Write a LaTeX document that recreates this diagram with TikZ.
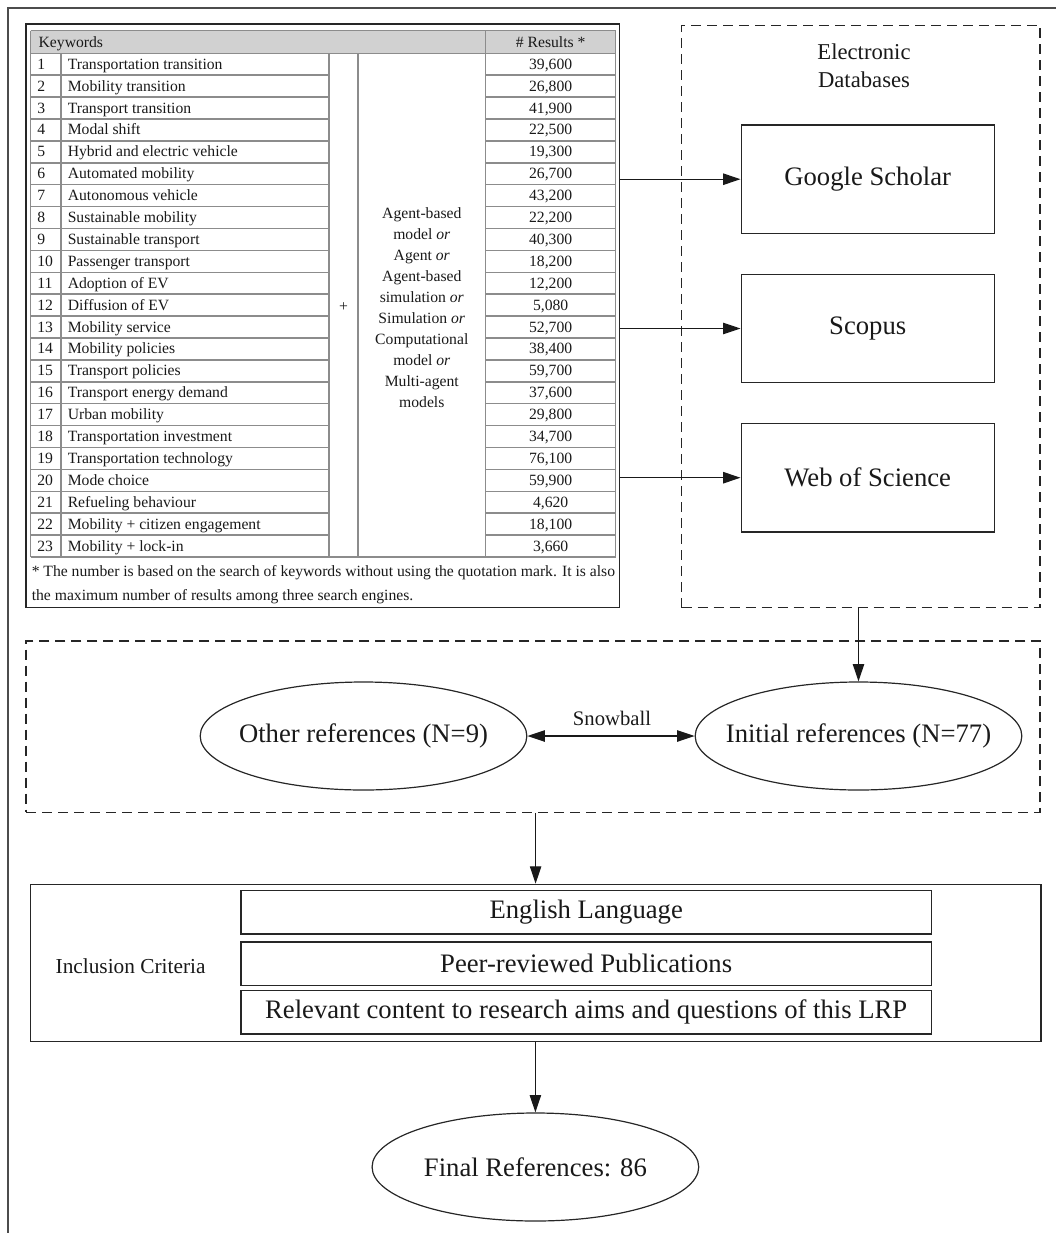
\documentclass[tikz,border=0pt]{standalone}
\usepackage{fontspec}
\setmainfont{Liberation Serif}
\usetikzlibrary{arrows.meta,shapes.geometric}
\begin{document}
\begin{tikzpicture}[x=0.75pt,y=-0.75pt,
  myTri/.tip={Triangle[length=13pt,width=8.5pt]},
  tabtxt/.style={font=\fontsize{11.75}{14}\selectfont, inner sep=0pt, text=black!90},
  gridline/.style={draw=black!45, line width=1.1pt},
  rbox/.style={draw=black!85, line width=1pt, rectangle, inner sep=0pt, text=black!90},
  dbox/.style={draw=black!85, line width=1pt, dash pattern=on 7.5pt off 4.5pt, rectangle, inner sep=0pt},
  ell/.style={draw=black!85, line width=0.9pt, ellipse, inner sep=0pt, minimum width=245pt, minimum height=81pt, font=\fontsize{20}{24}\selectfont, text=black!90},
  arr/.style={draw=black!90, line width=0.9pt, -myTri},
  dblarr/.style={draw=black!90, line width=0.9pt, myTri-myTri},
  bigtxt/.style={font=\fontsize{20}{24}\selectfont},
]
\useasboundingbox (0,0) rectangle (1056,1233);

% outer frame (top and left edges)
\draw[line width=1.5pt, black!70] (8,1233) -- (8,8) -- (1056,8);

% ---------- keyword table ----------
\node[rbox, minimum width=445pt, minimum height=437.8pt] (tbl) at (322.65,315.85) {};
\fill[black!18] (30.7,30.7) rectangle (615.7,53.3);
\foreach \n in {1,...,22}{
  \draw[gridline] (30.7,{53.3+\n*21.9}) -- (329.2,{53.3+\n*21.9});
  \draw[gridline] (485.7,{53.3+\n*21.9}) -- (615.7,{53.3+\n*21.9});
}
\draw[gridline] (30.7,30.7) -- (615.7,30.7);
\draw[gridline] (30.7,53.3) -- (615.7,53.3);
\draw[gridline] (30.7,557) -- (615.7,557);
\draw[gridline] (30.7,30.7) -- (30.7,557);
\draw[gridline] (615.7,30.7) -- (615.7,557);
\draw[gridline] (485.7,30.7) -- (485.7,557);
\draw[gridline] (61,53.3) -- (61,557);
\draw[gridline] (329.2,53.3) -- (329.2,557);
\draw[gridline] (357.9,53.3) -- (357.9,557);

\node[tabtxt, anchor=base west] (hkw) at (38.4,47) {Keywords};
\node[tabtxt, anchor=base] (hres) at (550.7,47) {\# Results *};

\foreach \k/\kw/\num [count=\i] in {
  {1/Transportation transition/39,600},
  {2/Mobility transition/26,800},
  {3/Transport transition/41,900},
  {4/Modal shift/22,500},
  {5/Hybrid and electric vehicle/19,300},
  {6/Automated mobility/26,700},
  {7/Autonomous vehicle/43,200},
  {8/Sustainable mobility/22,200},
  {9/Sustainable transport/40,300},
  {10/Passenger transport/18,200},
  {11/Adoption of EV/12,200},
  {12/Diffusion of EV/5,080},
  {13/Mobility service/52,700},
  {14/Mobility policies/38,400},
  {15/Transport policies/59,700},
  {16/Transport energy demand/37,600},
  {17/Urban mobility/29,800},
  {18/Transportation investment/34,700},
  {19/Transportation technology/76,100},
  {20/Mode choice/59,900},
  {21/Refueling behaviour/4,620},
  {22/Mobility + citizen engagement/18,100},
  {23/Mobility + lock-in/3,660}}{
  \node[tabtxt, anchor=base west] (no\i) at (37,{53.3+(\i-0.5)*21.9+5}) {\k};
  \node[tabtxt, anchor=base west] (kw\i) at (67.5,{53.3+(\i-0.5)*21.9+5}) {\kw};
  \node[tabtxt, anchor=base] (res\i) at (550.7,{53.3+(\i-0.5)*21.9+5}) {\num};
}

\node[tabtxt] (plus) at (343.5,307) {+};
\node[tabtxt, align=center, font=\fontsize{11.75}{15.7}\selectfont] (midtxt) at (421.8,307.5)
  {Agent-based\\model \textit{or}\\Agent \textit{or}\\Agent-based\\simulation \textit{or}\\Simulation \textit{or}\\Computational\\model \textit{or}\\Multi-agent\\models};

\node[tabtxt, anchor=base west] (fn1) at (31.5,576.5) {\makebox[437.5pt][s]{* The number is based on the search of keywords without using the quotation mark. It is also}};
\node[tabtxt, anchor=base west] (fn2) at (31.5,600) {the maximum number of results among three search engines.};

% ---------- electronic databases ----------
\node[dbox, minimum width=268.7pt, minimum height=436.8pt] (edb) at (860.85,316.5) {};
\node[font=\fontsize{17}{20.8}\selectfont, align=center, text=black!90] (edbt) at (864,66) {Electronic\\Databases};
\node[rbox, bigtxt, minimum width=189.75pt, minimum height=81.2pt] (gs) at (867.7,179.2) {Google Scholar};
\node[rbox, bigtxt, minimum width=189.75pt, minimum height=81.2pt] (sc) at (867.7,328.5) {Scopus};
\node[rbox, bigtxt, minimum width=189.75pt, minimum height=81.2pt] (wos) at (867.7,477.7) {Web of Science};

\draw[arr] (gs.west -| tbl.east) -- (gs.west);
\draw[arr] (sc.west -| tbl.east) -- (sc.west);
\draw[arr] (wos.west -| tbl.east) -- (wos.west);

% ---------- references ----------
\node[dbox, minimum width=760.5pt, minimum height=128.5pt] (midbox) at (533,726.65) {};
\node[ell] (oth) at (363.5,736) {\makebox[0pt]{Other references (N=9)}};
\node[ell] (ini) at (858.5,736) {\makebox[0pt]{Initial references (N=77)}};
\draw[arr] (ini.north |- edb.south) -- (ini.north);
\draw[dblarr] (oth.east) -- (ini.west);
\node[font=\fontsize{15.5}{18}\selectfont, text=black!90] (snow) at (612,718.3) {Snowball};

% ---------- inclusion criteria ----------
\node[rbox, minimum width=758pt, minimum height=118pt] (crit) at (535.6,963) {};
\node[font=\fontsize{16}{19}\selectfont, text=black!90] (crittxt) at (130.6,966) {Inclusion Criteria};
\node[rbox, bigtxt, minimum width=517.7pt, minimum height=32.5pt] (c1) at (586.2,912.3) {English Language};
\node[rbox, bigtxt, minimum width=517.7pt, minimum height=32.5pt] (c2) at (586.2,963.5) {Peer-reviewed Publications};
\node[rbox, bigtxt, minimum width=517.7pt, minimum height=32.5pt] (c3) at (586.2,1012.3) {Relevant content to research aims and questions of this LRP};
\draw[arr] (crit.north |- midbox.south) -- (crit.north);

\node[ell] (fin) at (535.4,1167) {\makebox[0pt]{Final References: 86}};
\draw[arr] (crit.south -| fin.north) -- (fin.north);
\end{tikzpicture}
\end{document}
